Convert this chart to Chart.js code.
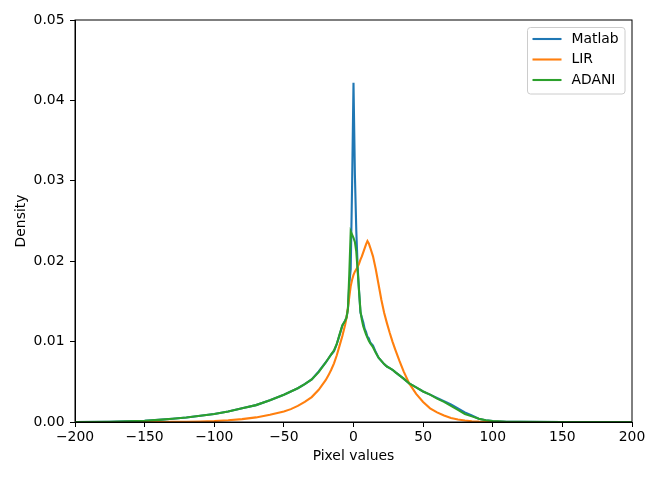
<!DOCTYPE html>
<html>
<head>
<meta charset="utf-8">
<script src="https://cdn.jsdelivr.net/npm/chart.js@4/dist/chart.umd.min.js"></script>
<style>
  html, body { margin: 0; padding: 0; background: #fff; }
</style>
</head>
<body>
<canvas id="densityChart" width="660" height="480"></canvas>
<script>
// Pixel values (shared x positions of all three curves)
const pixelValues = [
    -200, -175, -150, -140, -130, -120, -110, -100, -90, -80,
    -70, -60, -50, -45, -40, -35, -30, -25, -20, -18,
    -16, -14, -12, -10, -8, -6, -5, -4, -3, -2,
    -1, 0, 1, 2, 3, 4, 5, 6, 7, 8,
    9, 10, 11, 12, 14, 16, 18, 20, 22, 24,
    26, 28, 30, 33, 36, 40, 45, 50, 55, 60,
    65, 70, 75, 80, 85, 90, 95, 100, 110, 120,
    150, 175, 200,
];

const matlabDensity = [
    0, 0.00003, 0.00015, 0.00027, 0.0004, 0.00056, 0.00077, 0.001, 0.0013, 0.0017,
    0.0021, 0.0027, 0.0034, 0.0038, 0.0042, 0.0047, 0.0053, 0.0063, 0.0074, 0.0079,
    0.0084, 0.0088, 0.0097, 0.0108, 0.012, 0.0126, 0.013, 0.014, 0.0172, 0.019,
    0.0295, 0.0422, 0.0308, 0.0238, 0.0192, 0.0163, 0.0136, 0.013, 0.0124, 0.0116,
    0.0112, 0.0106, 0.0104, 0.0099, 0.0095, 0.0087, 0.008, 0.0076, 0.0072, 0.0069,
    0.0067, 0.0065, 0.0062, 0.0058, 0.0054, 0.0048, 0.0043, 0.0038, 0.0034, 0.003,
    0.0026, 0.0022, 0.0017, 0.0012, 0.0008, 0.0004, 0.00022, 0.00012, 0.00004, 0.00001,
    0, 0, 0,
];

const lirDensity = [
    0, 0, 0, 0, 0.00001, 0.00002, 0.00006, 0.00012, 0.00022, 0.00036,
    0.00057, 0.0009, 0.0013, 0.0016, 0.002, 0.0025, 0.0031, 0.004, 0.0052, 0.0058,
    0.0065, 0.0073, 0.0083, 0.0095, 0.0107, 0.0121, 0.013, 0.0142, 0.0156, 0.0169,
    0.0177, 0.0183, 0.0187, 0.019, 0.0193, 0.0197, 0.0202, 0.0206, 0.0211, 0.0216,
    0.0221, 0.0225, 0.0222, 0.0217, 0.0206, 0.019, 0.0171, 0.0152, 0.0136, 0.0123,
    0.0111, 0.01, 0.009, 0.0076, 0.0063, 0.0048, 0.0035, 0.0025, 0.0017, 0.0012,
    0.0008, 0.0005, 0.0003, 0.00018, 0.0001, 0.00005, 0.00002, 0.00001, 0, 0,
    0, 0, 0,
];

const adaniDensity = [
    0, 0.00003, 0.00015, 0.00027, 0.0004, 0.00056, 0.00077, 0.001, 0.0013, 0.0017,
    0.0021, 0.0027, 0.0034, 0.0038, 0.0042, 0.0047, 0.0053, 0.0062, 0.0074, 0.0079,
    0.0084, 0.0089, 0.0097, 0.0109, 0.012, 0.0126, 0.013, 0.0141, 0.0185, 0.0237,
    0.0233, 0.0229, 0.0224, 0.0212, 0.0188, 0.0162, 0.0138, 0.0127, 0.0119, 0.0114,
    0.0109, 0.0105, 0.0101, 0.0098, 0.0093, 0.0086, 0.008, 0.0076, 0.0072, 0.0069,
    0.0067, 0.0065, 0.0062, 0.0058, 0.0054, 0.0048, 0.0043, 0.0038, 0.0034, 0.0029,
    0.0025, 0.002, 0.0015, 0.001, 0.0007, 0.0004, 0.00022, 0.00012, 0.00004, 0.00001,
    0, 0, 0,
];

const seriesLabels = ["Matlab", "LIR", "ADANI"];
const seriesColors = ["#1f77b4", "#ff7f0e", "#2ca02c"];

const mplFont = "'DejaVu Sans', sans-serif";

// Helper: pair x positions with a density series.
function toPoints(values) {
    return pixelValues.map((x, i) => ({ x: x, y: values[i] }));
}

// Draw the full axes box like matplotlib's spines.
const framePlugin = {
    id: "frame",
    afterDatasetsDraw(chart) {
        const { ctx, chartArea: a } = chart;
        ctx.save();
        ctx.strokeStyle = "#000";
        ctx.lineWidth = 1;
        ctx.strokeRect(a.left, a.top, a.right - a.left, a.bottom - a.top);
        ctx.restore();
    },
};

// Legend box inside the plot, upper right.
const insideLegend = {
    id: "insideLegend",
    afterDraw(chart) {
        const ctx = chart.ctx;
        const left = 527.5, top = 27.5, w = 97.5, h = 66.5;
        ctx.save();
        ctx.beginPath();
        ctx.roundRect(left, top, w, h, 3);
        ctx.fillStyle = "rgba(255,255,255,0.8)";
        ctx.fill();
        ctx.strokeStyle = "#cccccc";
        ctx.lineWidth = 1;
        ctx.stroke();
        ctx.font = "13.9px " + mplFont;
        ctx.textBaseline = "middle";
        ctx.fillStyle = "#000";
        const rows = [39, 59.5, 80];
        seriesLabels.forEach((label, i) => {
            ctx.strokeStyle = seriesColors[i];
            ctx.lineWidth = 2.1;
            ctx.beginPath();
            ctx.moveTo(532.5, rows[i]);
            ctx.lineTo(561.5, rows[i]);
            ctx.stroke();
            ctx.fillText(label, 571.5, rows[i]);
        });
        ctx.restore();
    },
};

const datasets = [matlabDensity, lirDensity, adaniDensity].map((values, i) => ({
    label: seriesLabels[i],
    data: toPoints(values),
    borderColor: seriesColors[i],
    backgroundColor: seriesColors[i],
    borderWidth: 2.1,
    pointRadius: 0,
    tension: 0,
    fill: false,
    order: 2 - i, // later series drawn on top, as in matplotlib
}));

const ctx = document.getElementById("densityChart").getContext("2d");
new Chart(ctx, {
    type: "line",
    data: { datasets: datasets },
    options: {
        responsive: false,
        animation: false,
        devicePixelRatio: 1,
        layout: { padding: { top: 20, right: 28, left: 0, bottom: 0 } },
        plugins: {
            legend: { display: false },
            tooltip: { enabled: false },
        },
        scales: {
            x: {
                type: "linear",
                min: -200,
                max: 200,
                afterFit: (scale) => { scale.height = 58; },
                ticks: {
                    stepSize: 50,
                    autoSkip: false,
                    maxRotation: 0,
                    padding: 2.4,
                    color: "#000",
                    font: { family: mplFont, size: 13.9 },
                    callback: (v) => String(v).replace("-", "\u2212"),
                },
                grid: {
                    drawOnChartArea: false,
                    drawTicks: true,
                    tickLength: 5,
                    tickColor: "#000",
                    tickWidth: 1,
                },
                border: { display: true, color: "#000", width: 1 },
                title: {
                    display: true,
                    text: "Pixel values",
                    color: "#000",
                    font: { family: mplFont, size: 13.9 },
                    padding: { top: 0, bottom: 15.7 },
                },
            },
            y: {
                min: 0,
                max: 0.05,
                afterFit: (scale) => { scale.width = 75; },
                ticks: {
                    stepSize: 0.01,
                    padding: 5.5,
                    color: "#000",
                    font: { family: mplFont, size: 13.9 },
                    callback: (v) => v.toFixed(2),
                },
                grid: {
                    drawOnChartArea: false,
                    drawTicks: true,
                    tickLength: 5,
                    tickColor: "#000",
                    tickWidth: 1,
                },
                border: { display: true, color: "#000", width: 1 },
                title: {
                    display: true,
                    text: "Density",
                    color: "#000",
                    font: { family: mplFont, size: 13.9 },
                    padding: { top: 12.9, bottom: 0 },
                },
            },
        },
    },
    plugins: [framePlugin, insideLegend],
});
</script>
</body>
</html>
